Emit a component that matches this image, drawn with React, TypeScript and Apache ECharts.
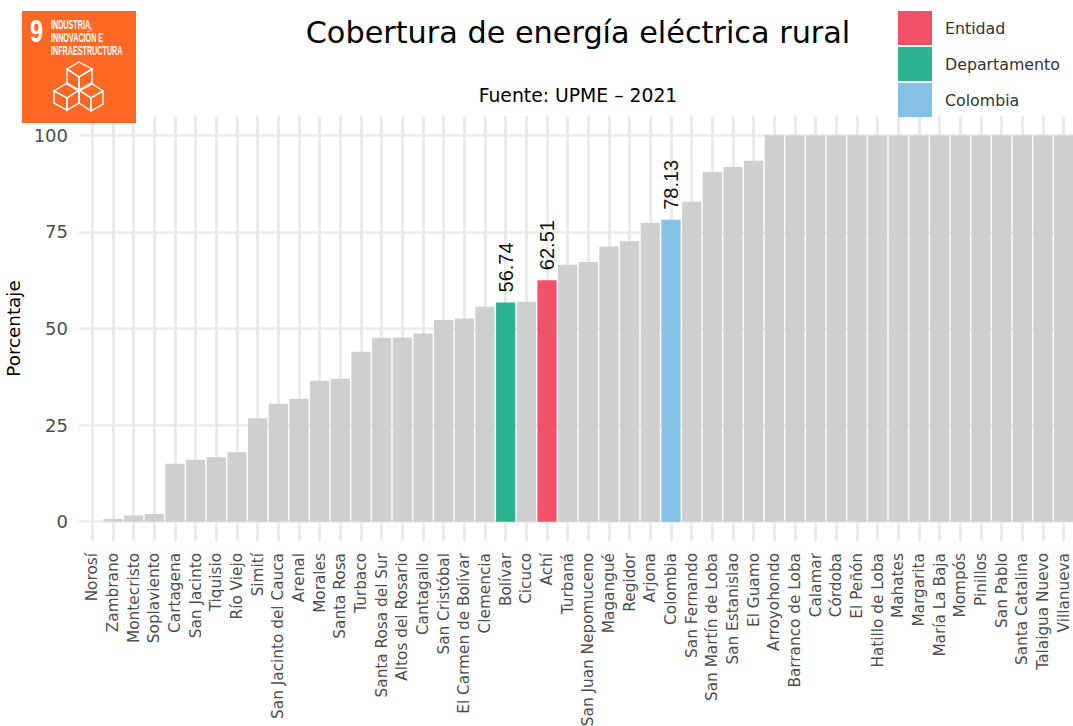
import React, { useEffect, useRef } from "react";
import * as echarts from "echarts";

const categories = ["Norosí","Zambrano","Montecristo","Soplaviento","Cartagena","San Jacinto","Tiquisio","Río Viejo","Simití","San Jacinto del Cauca","Arenal","Morales","Santa Rosa","Turbaco","Santa Rosa del Sur","Altos del Rosario","Cantagallo","San Cristóbal","El Carmen de Bolívar","Clemencia","Bolívar","Cicuco","Achí","Turbaná","San Juan Nepomuceno","Magangué","Regidor","Arjona","Colombia","San Fernando","San Martín de Loba","San Estanislao","El Guamo","Arroyohondo","Barranco de Loba","Calamar","Córdoba","El Peñón","Hatillo de Loba","Mahates","Margarita","María La Baja","Mompós","Pinillos","San Pablo","Santa Catalina","Talaigua Nuevo","Villanueva"];
const values = [0,0.7,1.6,2,15,16,16.7,18,26.8,30.5,31.8,36.5,37,44,47.6,47.7,48.7,52.2,52.6,55.6,56.74,56.9,62.51,66.5,67.2,71.2,72.6,77.4,78.13,82.8,90.5,91.8,93.4,100,100,100,100,100,100,100,100,100,100,100,100,100,100,100];
const yTicks = [0,25,50,75,100];
const highlights = [
  { name: "Entidad", cat: "Achí", color: "#F25267" },
  { name: "Departamento", cat: "Bolívar", color: "#2DB48E" },
  { name: "Colombia", cat: "Colombia", color: "#85C1E5" },
];
const FONT = "'DejaVu Sans', Verdana, sans-serif";
const LABEL_FONT = "'Liberation Sans', Arial, sans-serif";

export default function App() {
  const ref = useRef<HTMLDivElement>(null);
  useEffect(() => {
    document.body.style.margin = "0";
    const chart = echarts.init(ref.current!, undefined, { renderer: "svg" });
    const hl = new Set(highlights.map((h) => h.cat));
    const base = {
      type: "bar", stack: "a", barWidth: "93%",
    };
    const series: any[] = [
      { ...base, name: "Otros", itemStyle: { color: "#CFCFCF" },
        data: categories.map((c, i) => (hl.has(c) ? null : values[i])) },
      ...highlights.map((h) => ({
        ...base, name: h.name, itemStyle: { color: h.color },
        data: categories.map((c, i) => (c === h.cat ? values[i] : null)),
        label: { show: true, position: "top", rotate: 90, align: "left", verticalAlign: "middle", distance: 10,
          fontFamily: LABEL_FONT, fontSize: 20, color: "#111", formatter: (p: any) => p.value == null ? "" : Number(p.value).toFixed(2) },
      })),
    ];
    chart.setOption({
      animation: false,
      backgroundColor: "#fff",
      grid: { left: 82, right: -1, top: 116, height: 425, outerBoundsMode: "none" },
      legend: {
        data: highlights.map((h) => h.name), orient: "vertical", left: 898, top: 11, padding: 0,
        itemWidth: 34, itemHeight: 34, itemGap: 2, icon: "rect", selectedMode: false,
        textStyle: { fontFamily: FONT, fontSize: 15.8, color: "#333", padding: [0, 0, 0, 8] },
      },
      title: [
        { text: "Cobertura de energía eléctrica rural", left: 573, top: 12, textAlign: "center",
          textStyle: { fontFamily: FONT, fontSize: 30.3, fontWeight: "normal", color: "#000" } },
        { text: "Fuente: UPME – 2021", left: 573, top: 81, textAlign: "center",
          textStyle: { fontFamily: FONT, fontSize: 18.8, fontWeight: "normal", color: "#000" } },
      ],
      xAxis: {
        type: "category", data: categories,
        axisLine: { show: false }, axisTick: { show: false },
        splitLine: { show: true, alignWithLabel: true, lineStyle: { color: "#EBEBEB", width: 3 } },
        axisLabel: { interval: 0, rotate: 90, margin: 12, fontFamily: FONT, fontSize: 15.3, color: "#4D4D4D" },
      },
      yAxis: {
        type: "value", min: -5, max: 105,
        name: "Porcentaje", nameLocation: "middle", nameGap: 55, nameRotate: 90,
        nameTextStyle: { fontFamily: FONT, fontSize: 18.3, color: "#000" },
        axisLine: { show: false },
        axisTick: { show: true, length: 3, customValues: yTicks, lineStyle: { color: "#EBEBEB", width: 2.5 } },
        axisLabel: { customValues: yTicks, margin: 14, fontFamily: FONT, fontSize: 18, color: "#4D4D4D" },
        splitLine: { show: true, lineStyle: { color: "#EBEBEB", width: 2.5 } },
      },
      series,
      graphic: [
        { type: "rect", shape: { x: 22, y: 11, width: 114, height: 112 }, style: { fill: "#FD6925" }, z: 50 },
        { type: "text", x: 30, y: 15, scaleX: 0.73, z: 51, style: { text: "9", fill: "#fff", font: "bold 32px 'Liberation Sans', sans-serif" } },
        { type: "text", x: 51, y: 18, scaleX: 0.6, z: 51, style: { text: "INDUSTRIA,\nINNOVACIÓN E\nINFRAESTRUCTURA", fill: "#fff", lineHeight: 13.3, font: "bold 12px 'Liberation Sans', sans-serif" } },
        ...[
          [[79,62],[92,69],[79,77],[67,69]],
          [[67,69],[67,84],[79,91],[79,77]],
          [[92,69],[92,84],[79,91],[79,77]],
          [[67,83],[79,90],[67,98],[54,91]],
          [[54,91],[54,103],[67,110],[67,98]],
          [[79,90],[79,103],[67,110],[67,98]],
          [[91,83],[103,91],[91,98],[79,90]],
          [[79,90],[79,103],[91,111],[91,98]],
          [[103,91],[103,104],[91,111],[91,98]],
        ].map((p) => ({ type: "polygon", z: 51, shape: { points: p }, style: { fill: "transparent", stroke: "#fff", lineWidth: 1.4 } })),
      ],
    });
    return () => chart.dispose();
  }, []);
  return <div ref={ref} style={{ position: "absolute", left: 0, top: 0, width: 1073, height: 726 }} />;
}
